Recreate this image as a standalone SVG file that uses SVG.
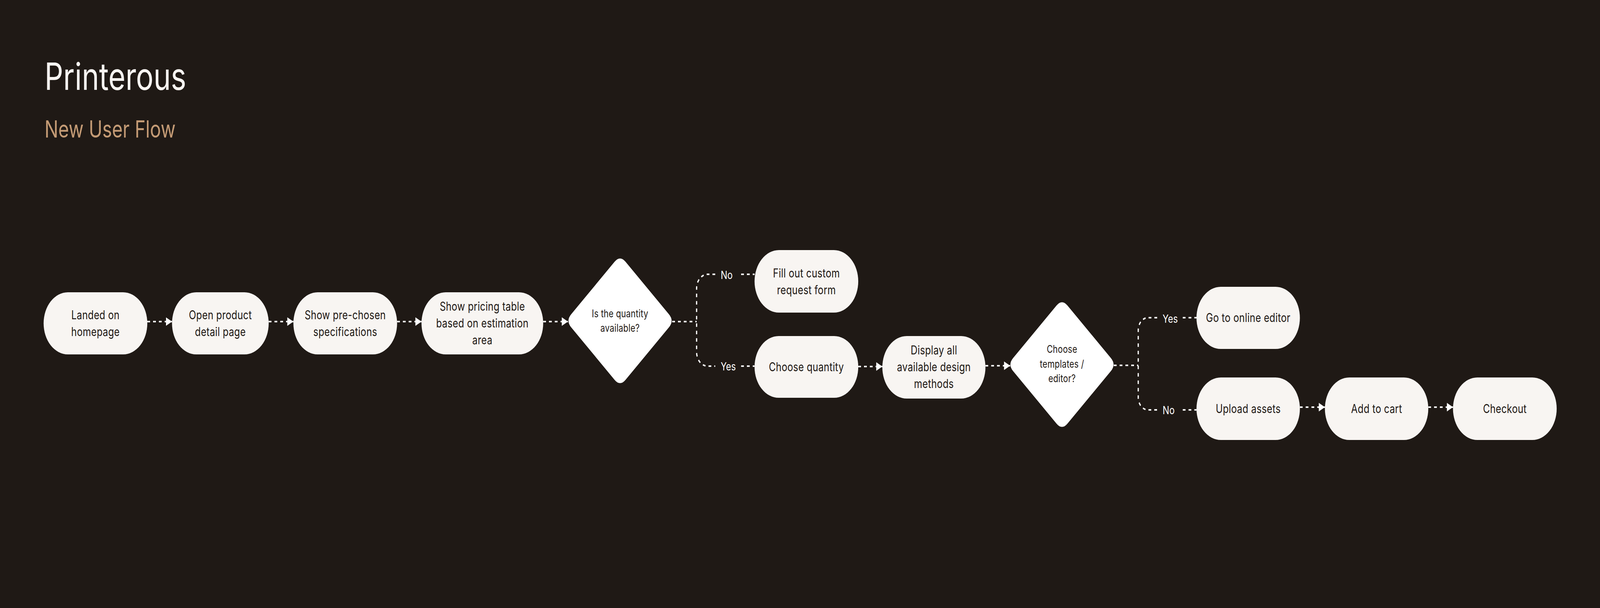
<svg xmlns="http://www.w3.org/2000/svg" width="5246" height="1556" viewBox="0 0 5246 1556" preserveAspectRatio="none">
<style>
svg{width:100vw;height:100vh;display:block}
.node rect{fill:#F8F5F2}
.dia use{fill:#FFFFFF}
.nt{font-family:Inter,"Noto Sans","Liberation Sans",sans-serif;font-size:31px;letter-spacing:0.4px;fill:#1E1814;text-anchor:middle}
.dt{font-family:Inter,"Noto Sans","Liberation Sans",sans-serif;font-size:27px;letter-spacing:0.3px;fill:#1E1814;text-anchor:middle}
.lbl{font-family:Inter,"Noto Sans","Liberation Sans",sans-serif;font-size:29px;fill:#FFFFFF}
.c{fill:none;stroke:#FFFFFF;stroke-width:4;stroke-dasharray:9 10}
</style>
<defs>
<marker id="ah" viewBox="0 0 20 22" refX="20" refY="11" markerWidth="20" markerHeight="22" markerUnits="userSpaceOnUse" orient="auto"><path d="M0,0 L20,11 L0,22 Z" fill="#FFFFFF"/></marker>
<path id="diamond" d="M17.8,-151.2 L160.2,-16.8 Q178,0 160.2,16.8 L17.8,151.2 Q0,168 -17.8,151.2 L-160.2,16.8 Q-178,0 -160.2,-16.8 L-17.8,-151.2 Q0,-168 17.8,-151.2 Z"/>
</defs>
<rect x="0" y="0" width="5246" height="1556" fill="#1F1915"/>
<g id="title">
<text x="146" y="230" font-family="Inter,'Noto Sans','Liberation Sans',sans-serif" font-size="96" fill="#F8F5F2">Printerous</text>
<text x="146" y="352" font-family="Inter,'Noto Sans','Liberation Sans',sans-serif" font-size="60" fill="#C49B75">New User Flow</text>
</g>
<g id="connectors">
<path class="c" d="M483,823 H564" marker-end="url(#ah)"/>
<path class="c" d="M881,823 H962" marker-end="url(#ah)"/>
<path class="c" d="M1302,823 H1382" marker-end="url(#ah)"/>
<path class="c" d="M1781,823 H1862" marker-end="url(#ah)"/>
<path class="c" d="M2204,823 H2284"/>
<path class="c" d="M2345,702 H2320 A36,36 0 0 0 2284,738 V901 A36,36 0 0 0 2320,937 H2345"/>
<path class="c" d="M2430,702 H2474"/>
<path class="c" d="M2430,937 H2474"/>
<path class="c" d="M2814,938 H2893" marker-end="url(#ah)"/>
<path class="c" d="M3231,936 H3312" marker-end="url(#ah)"/>
<path class="c" d="M3652,935 H3732"/>
<path class="c" d="M3794,813 H3764 A32,32 0 0 0 3732,845 V1017 A32,32 0 0 0 3764,1049 H3796"/>
<path class="c" d="M3878,813 H3923"/>
<path class="c" d="M3878,1049 H3923"/>
<path class="c" d="M4262,1042 H4344" marker-end="url(#ah)"/>
<path class="c" d="M4683,1042 H4764" marker-end="url(#ah)"/>
<text class="lbl" x="2363" y="714">No</text>
<text class="lbl" x="2363" y="948">Yes</text>
<text class="lbl" x="3812" y="826">Yes</text>
<text class="lbl" x="3812" y="1060">No</text>
</g>
<g id="n1" class="node"><rect x="143" y="748" width="340" height="159" rx="79.5"/><text class="nt" x="313"><tspan x="313" y="817">Landed on</tspan><tspan x="313" y="860">homepage</tspan></text></g>
<g id="n2" class="node"><rect x="564" y="748" width="317" height="159" rx="79.5"/><text class="nt" x="722.5"><tspan x="722.5" y="817">Open product</tspan><tspan x="722.5" y="860">detail page</tspan></text></g>
<g id="n3" class="node"><rect x="962" y="748" width="340" height="159" rx="79.5"/><text class="nt" x="1132"><tspan x="1132" y="817">Show pre-chosen</tspan><tspan x="1132" y="860">specifications</tspan></text></g>
<g id="n4" class="node"><rect x="1382" y="748" width="399" height="159" rx="79.5"/><text class="nt" x="1581.5"><tspan x="1581.5" y="795">Show pricing table</tspan><tspan x="1581.5" y="838">based on estimation</tspan><tspan x="1581.5" y="881">area</tspan></text></g>
<g id="d1" class="dia"><use href="#diamond" x="2033" y="821"/><text class="dt" x="2033"><tspan x="2033" y="812">Is the quantity</tspan><tspan x="2033" y="849">available?</tspan></text></g>
<g id="n5" class="node"><rect x="2474" y="640" width="340" height="160" rx="80"/><text class="nt" x="2644"><tspan x="2644" y="710">Fill out custom</tspan><tspan x="2644" y="753">request form</tspan></text></g>
<g id="n6" class="node"><rect x="2474" y="860" width="340" height="158" rx="79"/><text class="nt" x="2644" y="950">Choose quantity</text></g>
<g id="n7" class="node"><rect x="2893" y="860" width="338" height="160" rx="80"/><text class="nt" x="3062"><tspan x="3062" y="907">Display all</tspan><tspan x="3062" y="950">available design</tspan><tspan x="3062" y="993">methods</tspan></text></g>
<g id="d2" class="dia"><use href="#diamond" x="3482" y="933"/><text class="dt" x="3482"><tspan x="3482" y="903">Choose</tspan><tspan x="3482" y="941">templates /</tspan><tspan x="3482" y="978">editor?</tspan></text></g>
<g id="n8" class="node"><rect x="3923" y="734" width="339" height="159" rx="79.5"/><text class="nt" x="4092.5" y="824">Go to online editor</text></g>
<g id="n9" class="node"><rect x="3923" y="966" width="339" height="160" rx="80"/><text class="nt" x="4092.5" y="1057">Upload assets</text></g>
<g id="n10" class="node"><rect x="4344" y="966" width="339" height="160" rx="80"/><text class="nt" x="4513.5" y="1057">Add to cart</text></g>
<g id="n11" class="node"><rect x="4764" y="966" width="340" height="160" rx="80"/><text class="nt" x="4934" y="1057">Checkout</text></g>
</svg>
